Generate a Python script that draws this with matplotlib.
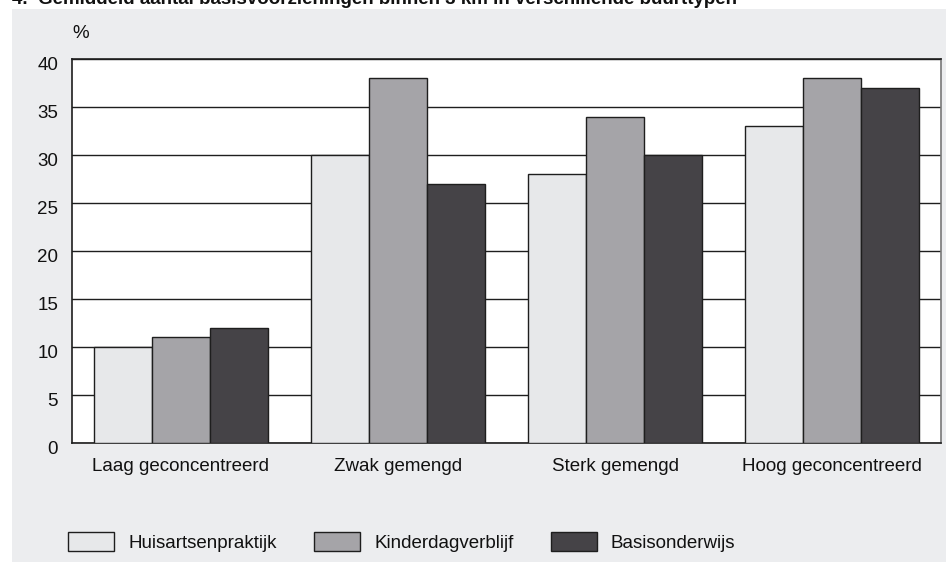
import matplotlib
matplotlib.use("Agg")
import matplotlib.pyplot as plt
import matplotlib.transforms as mtransforms
import numpy as np

plt.rcParams['font.family'] = ['Liberation Sans', 'DejaVu Sans']

categories = ["Laag geconcentreerd", "Zwak gemengd", "Sterk gemengd", "Hoog geconcentreerd"]
series_names = ["Huisartsenpraktijk", "Kinderdagverblijf", "Basisonderwijs"]
huisarts = [10, 30, 28, 33]
kinderdag = [11, 38, 34, 38]
basisonderwijs = [12, 27, 30, 37]
yticks = [0, 5, 10, 15, 20, 25, 30, 35, 40]
title = "4.  Gemiddeld aantal basisvoorzieningen binnen 3 km in verschillende buurttypen"

colors = ["#e7e8ea", "#a5a4a8", "#454347"]
panel_bg = "#ecedef"
edge = "#1e1e1e"
FS = 13.5

W, H = 946, 562
fig = plt.figure(figsize=(W / 100, H / 100), dpi=100)
fig.patch.set_facecolor("white")

# grey panel
panel = plt.Rectangle((12 / W, 0), 1 - 12 / W, (H - 9) / H, transform=fig.transFigure,
                      facecolor=panel_bg, edgecolor="none", zorder=-5)
fig.patches.append(panel)

ax = fig.add_axes([72 / W, (H - 443) / H, (941 - 72) / W, (443 - 59) / H])
ax.set_zorder(2)
ax.set_facecolor("white")

x = np.arange(len(categories))
bw = 0.267
for i, (vals, c, name) in enumerate(zip([huisarts, kinderdag, basisonderwijs], colors, series_names)):
    ax.bar(x + (i - 1) * bw, vals, width=bw, color=c, edgecolor=edge, linewidth=1.0,
           label=name, zorder=3)

ax.set_xlim(-0.5, len(categories) - 0.5)
ax.set_ylim(0, 40)
ax.set_yticks(yticks)
ax.set_yticklabels([str(v) for v in yticks], fontsize=FS)
ax.set_xticks(x)
ax.set_xticklabels(categories, fontsize=FS)
ax.tick_params(axis="both", length=0, colors="#111111")
ax.tick_params(axis="y", pad=10)
ax.tick_params(axis="x", pad=11)
ax.yaxis.grid(True, color=edge, linewidth=1.0, zorder=1)
ax.set_axisbelow(True)
for s in ax.spines.values():
    s.set_color(edge)
    s.set_linewidth(1.2)
ax.spines["right"].set_color("#777777")

offset = mtransforms.ScaledTranslation(0, -5 / 100, fig.dpi_scale_trans)
for lab in ax.get_yticklabels():
    lab.set_transform(lab.get_transform() + offset)

fig.text(72 / W, (H - 33) / H, "%", fontsize=FS, ha="left", va="center", color="#111111")
fig.text(12 / W, (H - 4) / H, title, fontsize=FS, fontweight="bold", ha="left",
         va="baseline", color="#111111")

handles, labels = ax.get_legend_handles_labels()
leg = fig.legend(handles, labels, loc="center left", bbox_to_anchor=(68 / W, 20 / H),
                 ncol=3, frameon=False, fontsize=FS, handlelength=2.45, handleheight=1.22,
                 handletextpad=0.75, columnspacing=2.0, borderpad=0, borderaxespad=0)
for t in leg.get_texts():
    t.set_color("#111111")

fig.savefig("out.png", dpi=100)
